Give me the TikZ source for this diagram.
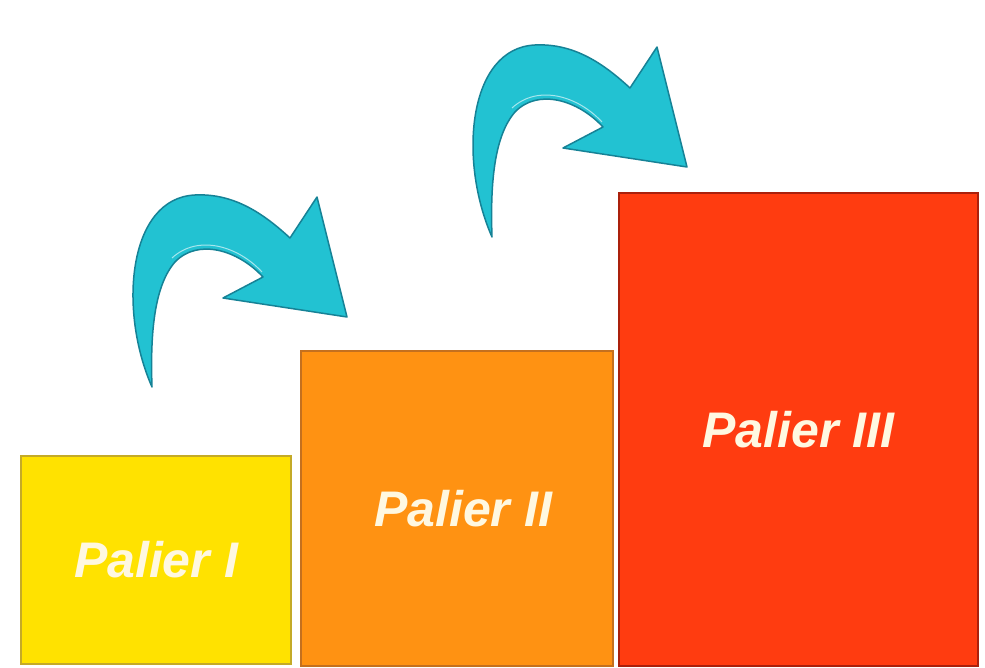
\documentclass[tikz,border=0pt]{standalone}
\usepackage{fontspec}
\setmainfont{Liberation Sans}
\definecolor{yel}{RGB}{255,226,0}
\definecolor{yelb}{RGB}{196,170,40}
\definecolor{ora}{RGB}{255,146,18}
\definecolor{orab}{RGB}{196,112,30}
\definecolor{red1}{RGB}{255,60,16}
\definecolor{redb}{RGB}{170,32,12}
\definecolor{teal1}{RGB}{34,194,210}
\definecolor{tealb}{RGB}{22,130,150}
\definecolor{txt}{RGB}{255,248,225}
\tikzset{
  stepbox/.style={draw, line width=2pt, anchor=north west, inner sep=0pt,
    font=\fontsize{50}{60}\selectfont\bfseries\itshape, text=txt},
  curvearrow/.style={fill=teal1, draw=tealb, line width=1.5pt, line join=round}
}
\begin{document}
\begin{tikzpicture}[x=1pt,y=-1pt]
\useasboundingbox (0,0) rectangle (985,668);
\node[stepbox, fill=yel, draw=yelb, minimum width=270pt, minimum height=208pt] (p1) at (20,455) {Palier I};
\node[stepbox, fill=ora, draw=orab, minimum width=312pt, minimum height=315pt] (p2) at (300,350) {\hspace{12pt}Palier II};
\node[stepbox, fill=red1, draw=redb, minimum width=359pt, minimum height=473pt] (p3) at (618,192) {Palier III};
\foreach \dx/\dy/\nm in {0/0/a1, 340/-150/a2}{
  \begin{scope}[shift={(\dx,\dy)}]
  \draw[curvearrow] (152,387) .. controls (118,310) and (128,198) .. (195,195)
     .. controls (235,193) and (265,215) .. (290,238) -- (317,197) -- (347,317)
     -- (223,298) -- (263,277) .. controls (238,250) and (198,238) .. (175,262)
     .. controls (155,285) and (150,330) .. (152,387) -- cycle;
  \draw[white, line width=1pt, opacity=0.6] (262,272) .. controls (238,246) and (198,234) .. (172,258);
  \end{scope}
}
\end{tikzpicture}
\end{document}
